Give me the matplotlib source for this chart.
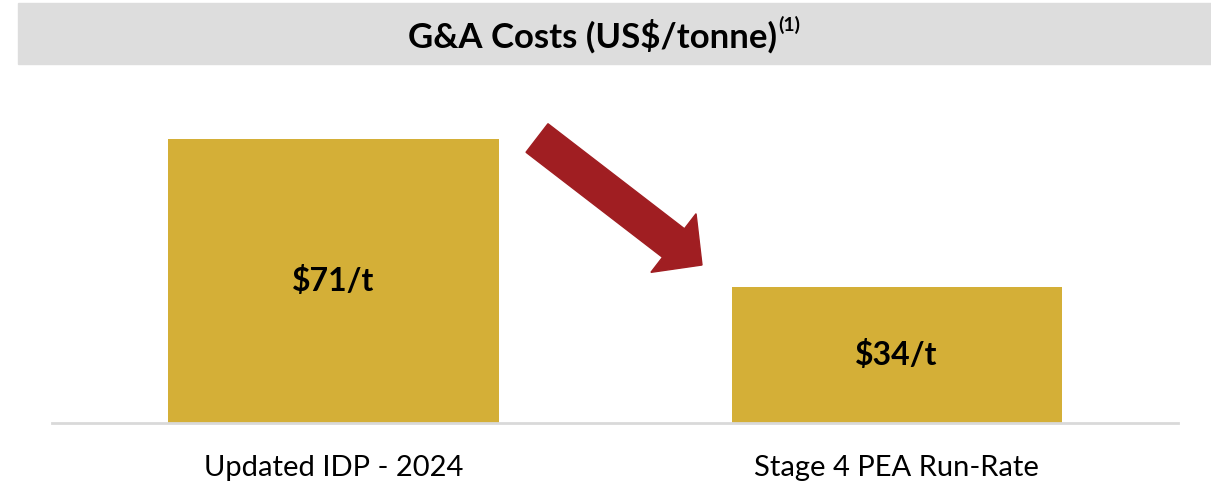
import matplotlib
matplotlib.use("Agg")
import matplotlib.pyplot as plt
from matplotlib.patches import Rectangle, FancyArrow

categories = ["Updated IDP - 2024", "Stage 4 PEA Run-Rate"]
values = [71, 34]
value_labels = ["\\$71/t", "\\$34/t"]

plt.rcParams["font.family"] = ["Lato", "DejaVu Sans"]

W, H = 1211, 486
fig = plt.figure(figsize=(W / 100, H / 100), dpi=100)

# title band
fig.patches.append(Rectangle((18 / W, 1 - 64 / H), (W - 18) / W, 61 / H,
                             transform=fig.transFigure, color="#DDDDDD", zorder=0))
title = fig.text(593 / W, 1 - 36 / H, "G&A Costs (US\\$/tonne)", ha="center", va="center",
                 fontsize=25, fontweight="bold", color="black")
renderer = fig.canvas.get_renderer()
bb = title.get_window_extent(renderer)
fig.text((bb.x1 + 1) / W, 1 - 25 / H, "(1)", ha="left", va="center",
         fontsize=14, fontweight="bold", color="black")

# axes: x from 52 to 1178 px, y=0 at 423 px, 4 px per unit
ax = fig.add_axes([52 / W, 1 - 423 / H, (1178 - 52) / W, 320 / H])
x = list(range(len(categories)))
ax.bar(x, values, width=330 / 563, color="#D4AF37")
ax.set_xlim(-0.5, 1.5)
ax.set_ylim(0, 80)
for xi, v, lab in zip(x, values, value_labels):
    ax.text(xi, v / 2, lab, ha="center", va="center", fontsize=23,
            fontweight="bold", color="black")
for s in ["top", "right", "left"]:
    ax.spines[s].set_visible(False)
ax.spines["bottom"].set_color("#D9D9D9")
ax.spines["bottom"].set_linewidth(2)
ax.set_yticks([])
ax.set_xticks(x)
ax.set_xticklabels(categories, fontsize=21)
ax.tick_params(axis="x", length=0, pad=23)

# arrow (inches)
tail = (537 / 100, (H - 138) / 100)
tip = (702 / 100, (H - 265) / 100)
fig.patches.append(FancyArrow(tail[0], tail[1], tip[0] - tail[0], tip[1] - tail[1],
                              width=0.36, head_width=0.74, head_length=0.36,
                              length_includes_head=True, color="#A01E22",
                              transform=fig.dpi_scale_trans))

fig.savefig("out.png", dpi=100)
